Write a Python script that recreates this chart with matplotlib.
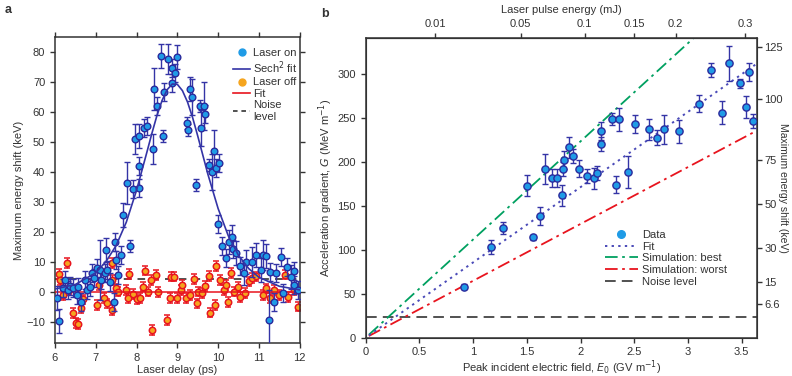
import numpy as np
import matplotlib
matplotlib.use('Agg')
import matplotlib.pyplot as plt

plt.rcParams['font.family'] = ['Liberation Sans', 'DejaVu Sans']
plt.rcParams['font.size'] = 7.5
plt.rcParams['axes.edgecolor'] = '#333333'
plt.rcParams['text.color'] = '#333333'
plt.rcParams['xtick.color'] = '#333333'
plt.rcParams['ytick.color'] = '#333333'
plt.rcParams['axes.labelcolor'] = '#333333'

# ---- panel a: energy shift vs laser delay ----
on_delay = [6.06, 6.10, 6.20, 6.25, 6.31, 6.37, 6.45, 6.53, 6.57, 6.63, 6.73, 6.79, 6.87, 6.90,
            6.96, 7.02, 7.10, 7.14, 7.22, 7.25, 7.28, 7.34, 7.445, 7.47, 7.49, 7.55, 7.63, 7.66,
            7.755, 7.85, 7.92, 7.96, 8.065, 8.07, 8.07, 8.18, 8.245, 8.41, 8.425, 8.49, 8.60, 8.65,
            8.68, 8.76, 8.86, 8.88, 8.955, 8.995, 9.225, 9.26, 9.30, 9.37, 9.45, 9.55, 9.58, 9.66,
            9.69, 9.78, 9.85, 9.89, 9.94, 10.02, 10.0, 10.1, 10.2, 10.26, 10.33, 10.37, 10.45, 10.53,
            10.64, 10.68, 10.82, 10.94, 11.06, 11.10, 11.18, 11.25, 11.27, 11.36, 11.43, 11.53, 11.58,
            11.69, 11.78, 11.85, 11.87, 11.95]
on_shift = [-2.1, -9.6, 1.2, 3.9, 0.5, 2.0, 1.2, -1.0, 1.8, -3.2, 3.9, 0.5, 1.8, 6.4,
            4.6, 7.9, 7.3, 3.9, 6.4, 14.0, 7.3, 3.4, -3.2, 16.6, 10.7, 5.7, 12.3, 25.7,
            36.2, 15.4, 34.2, 50.9, 52.0, 42.1, 34.6, 54.6, 55.3, 47.6, 67.6, 62.0, 78.7, 52.0,
            66.8, 77.6, 69.6, 74.6, 72.9, 78.4, 56.2, 54.0, 67.6, 64.9, 35.7, 62.0, 54.6, 62.0,
            59.2, 42.3, 39.9, 47.0, 41.4, 43.1, 22.7, 15.4, 11.4, 16.6, 18.4, 14.4, 12.9, 8.8,
            6.2, 10.1, 10.1, 12.3, 7.3, 12.3, 11.9, -9.3, 6.8, -3.2, 6.2, 11.8, -0.4,
            8.2, 4.9, 7.1, 2.4, 0.7]
on_err = [4, 4, 3, 3, 3, 3, 3, 3, 3, 3, 3, 3, 3, 3,
          3, 3, 10, 3, 3, 4, 3, 3, 3, 3, 3, 3, 3, 4,
          7, 2, 3, 5, 4, 3, 3, 3, 3, 5, 7, 3, 4, 2,
          3, 5, 3, 3, 3, 4, 2, 2, 4, 6, 2, 2, 6, 8,
          3, 2, 6, 7, 3, 3, 3, 3, 3, 4, 4, 3, 4, 3,
          4, 4, 5, 4, 4, 5, 4, 10, 3, 3, 3, 3, 3,
          3, 4, 3, 3, 3]

off_delay = [6.11, 6.12, 6.20, 6.29, 6.35, 6.43, 6.51, 6.56, 6.63, 6.69, 7.04, 7.09, 7.19, 7.28,
             7.39, 7.41, 7.39, 7.50, 7.55, 7.73, 7.82, 7.80, 7.92, 8.00, 8.08, 8.16, 8.20, 8.28,
             8.35, 8.39, 8.47, 8.53, 8.75, 8.81, 8.84, 8.92, 9.00, 9.08, 9.12, 9.22, 9.30, 9.40,
             9.48, 9.50, 9.60, 9.68, 9.78, 9.81, 9.92, 9.96, 10.04, 10.14, 10.20, 10.25, 10.32,
             10.40, 10.49, 10.53, 10.65, 10.75, 10.82, 10.94, 11.10, 11.18, 11.28, 11.38, 11.50,
             11.63, 11.71, 11.85, 11.96]
off_shift = [5.9, 4.0, -1.0, 9.6, 0.5, -7.1, -10.4, -10.7, -5.3, -2.5, -4.3, 2.4, -2.1, -3.8,
             -6.0, 9.6, 4.0, 1.2, 0.1, 0.6, 6.0, -2.1, -0.6, -2.5, -2.1, 1.8, 7.1, 0.1,
             4.0, -12.7, 5.7, -0.1, -9.3, -2.1, 5.1, 5.1, -2.1, 0.6, 2.4, -2.1, -1.0, 4.4,
             -3.8, 0.1, -0.4, 2.0, 5.4, -6.9, -4.3, 8.7, 4.0, 0.6, 2.4, -3.3, 6.4,
             0.1, 1.8, -1.6, -0.4, 3.5, 4.6, 5.2, -1.0, 1.2, -2.1, 0.6, -1.0,
             5.8, -1.6, 0.6, -4.9]
off_err = 1.6

# sech^2 fit curve
fit_delay = [6.0, 6.5, 7.0, 7.25, 7.5, 7.75, 8.0, 8.25, 8.375, 8.5, 8.625, 8.75, 8.875, 9.0,
             9.125, 9.25, 9.375, 9.5, 9.625, 9.75, 10.0, 10.25, 10.5, 10.75, 11.0, 11.5, 12.0]
fit_shift = [1.0, 2.5, 6.4, 10.1, 15.5, 23.3, 33.9, 46.4, 52.8, 58.8, 63.8, 67.4, 69.3, 69.2,
             67.1, 63.3, 58.1, 52.0, 45.6, 39.2, 27.8, 18.7, 12.2, 7.8, 4.9, 1.9, 0.7]
off_fit_level = 0.0
noise_a = 4.3

# ---- panel b: gradient vs peak field ----
field = [0.918, 1.164, 1.275, 1.561, 1.626, 1.505, 1.83, 2.33, 1.669, 1.737, 1.781, 1.837,
         1.846, 1.89, 1.933, 1.989, 2.057, 2.123, 2.151, 2.188, 2.188, 2.29, 2.36, 2.44,
         2.51, 2.635, 2.715, 2.78, 2.92, 3.10, 3.215, 3.315, 3.386, 3.485, 3.541, 3.566, 3.609]
gradient = [57.9, 103, 124.9, 114, 138, 172.5, 162, 174, 192, 181.6, 181.6, 192,
            201.7, 216.5, 206, 192, 184, 181, 186.6, 219.9, 235, 248.2, 248.2, 188,
            242.6, 236.5, 227.4, 236.5, 234.6, 266, 304.6, 255.4, 311.5, 288.8, 262, 302, 246.4]
gradient_err = [3, 8, 7, 3, 10, 12, 12, 10, 17, 10, 10, 8,
                10, 12, 8, 10, 8, 12, 8, 8, 10, 7, 13, 18,
                10, 12, 8, 17, 13, 10, 8, 13, 20, 5, 12, 10, 8]

fit_slope = 85.5
best_slope = 111.5
worst_slope = 64.6
line_field = [0.03, 3.64]
noise_b = 24.0

pulse_ticks = [0.01, 0.05, 0.1, 0.15, 0.2, 0.3]
pulse_scale = 6.45   # E0 = 6.45 * sqrt(pulse energy)
shift_labels = ['6.6', '15', '30', '50', '75', '100', '125']
shift_at_gradient = [38, 63, 102.3, 151.6, 201.5, 271.7, 330.3]

blue_face = '#1f9be6'
blue_edge = '#2a2a9c'
navy = '#3434a6'
red = '#e8141e'
orange = '#f5a51e'
green = '#00a060'

fig = plt.figure(figsize=(7.92, 3.76), dpi=100)
ax1 = fig.add_axes([0.0694, 0.0878, 0.309, 0.814])
ax2 = fig.add_axes([0.4617, 0.1019, 0.4937, 0.796])

# panel a
ax1.axhline(noise_a, color='#222222', lw=1.1, ls=(0, (5, 4)), zorder=1)
ax1.errorbar(off_delay, off_shift, yerr=off_err, fmt='o', ms=4.6, mfc=orange, mec=red, mew=1.1,
             ecolor=red, elinewidth=1.0, capsize=2, capthick=1.0, zorder=2)
ax1.plot([6, 12], [off_fit_level, off_fit_level], color=red, lw=1.1, zorder=3)
ax1.errorbar(on_delay, on_shift, yerr=on_err, fmt='o', ms=4.8, mfc=blue_face, mec=blue_edge, mew=1.0,
             ecolor=navy, elinewidth=1.0, capsize=2, capthick=1.0, zorder=4)
ax1.plot(fit_delay, fit_shift, color=navy, lw=1.2, zorder=5)

ax1.set_xlim(6, 12)
ax1.set_ylim(-17, 85)
ax1.set_xticks([6, 7, 8, 9, 10, 11, 12])
ax1.set_yticks(np.arange(-10, 81, 10))
ax1.set_yticklabels(['\u221210'] + [str(v) for v in range(0, 81, 10)])
ax1.tick_params(direction='out', length=3.5, width=1, top=True, right=True, labelsize=8)
for s in ax1.spines.values():
    s.set_linewidth(1.1)
ax1.set_xlabel('Laser delay (ps)', fontsize=8, labelpad=2)
ax1.set_ylabel('Maximum energy shift (keV)', fontsize=8, labelpad=2)

h_on = plt.Line2D([], [], ls='none', marker='o', ms=5, mfc=blue_face, mec=blue_face)
h_fit = plt.Line2D([], [], color=navy, lw=1.2)
h_off = plt.Line2D([], [], ls='none', marker='o', ms=5, mfc=orange, mec=orange)
h_ofit = plt.Line2D([], [], color=red, lw=1.2)
h_noise = plt.Line2D([], [], color='#222222', lw=1.1, ls=(0, (3, 2.5)))
ax1.legend([h_on, h_fit, h_off, h_ofit, h_noise],
           ['Laser on', 'Sech$^2$ fit', 'Laser off', 'Fit', 'Noise\nlevel'],
           loc='upper right', bbox_to_anchor=(1.02, 0.985), frameon=False, fontsize=8,
           handlelength=1.5, handletextpad=0.3, labelspacing=0.12, borderaxespad=0.2)
fig.text(0.006, 0.965, 'a', fontsize=9, fontweight='bold')

# panel b
fx = np.array(line_field)
ax2.axhline(noise_b, color='#222222', lw=1.1, ls=(0, (7, 4)), zorder=1)
ax2.plot(fx, best_slope * fx, color=green, lw=1.3, ls=(0, (7, 2.5, 1.5, 2.5)), zorder=2)
ax2.plot(fx, worst_slope * fx, color=red, lw=1.3, ls=(0, (7, 2.5, 1.5, 2.5)), zorder=2)
ax2.plot(fx, fit_slope * fx, color='#4a4ab8', lw=1.4, ls=(0, (1.2, 2.2)), zorder=2)
ax2.errorbar(field, gradient, yerr=gradient_err, fmt='o', ms=5.2, mfc=blue_face, mec=blue_edge, mew=1.0,
             ecolor=navy, elinewidth=1.0, capsize=2.2, capthick=1.0, zorder=4)

ax2.set_xlim(0, 3.64)
ax2.set_ylim(0, 340)
ax2.set_xticks(np.arange(0, 3.51, 0.5))
ax2.set_xticklabels(['0', '0.5', '1', '1.5', '2', '2.5', '3', '3.5'])
ax2.set_yticks(np.arange(0, 301, 50))
ax2.tick_params(direction='out', length=3.5, width=1, labelsize=8)
for s in ax2.spines.values():
    s.set_linewidth(1.1)
ax2.set_xlabel('Peak incident electric field, $E_0$ (GV m$^{-1}$)', fontsize=8, labelpad=1)
ax2.set_ylabel('Acceleration gradient, $G$ (MeV m$^{-1}$)', fontsize=8, labelpad=2)

top = ax2.secondary_xaxis('top', functions=(lambda e: (np.asarray(e) / pulse_scale) ** 2,
                                            lambda u: pulse_scale * np.sqrt(np.clip(u, 0, None))))
top.set_xticks(pulse_ticks)
top.set_xticklabels(['0.01', '0.05', '0.1', '0.15', '0.2', '0.3'])
top.tick_params(direction='out', length=3.5, width=1, labelsize=8)
top.set_xlabel('Laser pulse energy (mJ)', fontsize=8, labelpad=4)

right = ax2.twinx()
right.set_ylim(0, 340)
right.set_yticks(shift_at_gradient)
right.set_yticklabels(shift_labels)
right.tick_params(direction='out', length=3.5, width=1, labelsize=8, pad=2)
right.set_ylabel('Maximum energy shift (keV)', fontsize=7.5, rotation=270, va='center')
right.yaxis.set_label_coords(1.068, 0.5)

hb_data = plt.Line2D([], [], ls='none', marker='o', ms=5.5, mfc=blue_face, mec=blue_face)
hb_fit = plt.Line2D([], [], color='#4a4ab8', lw=1.4, ls=(0, (1.2, 2.2)))
hb_best = plt.Line2D([], [], color=green, lw=1.3, ls=(0, (7, 2.5, 1.5, 2.5)))
hb_worst = plt.Line2D([], [], color=red, lw=1.3, ls=(0, (7, 2.5, 1.5, 2.5)))
hb_noise = plt.Line2D([], [], color='#222222', lw=1.1, ls=(0, (7, 4)))
ax2.legend([hb_data, hb_fit, hb_best, hb_worst, hb_noise],
           ['Data', 'Fit', 'Simulation: best', 'Simulation: worst', 'Noise level'],
           loc='upper left', bbox_to_anchor=(0.6, 0.375), frameon=False, fontsize=8,
           handlelength=3.0, handletextpad=0.4, labelspacing=0.15, borderaxespad=0)
fig.text(0.405, 0.955, 'b', fontsize=9, fontweight='bold')

fig.savefig('out.png', dpi=100)
